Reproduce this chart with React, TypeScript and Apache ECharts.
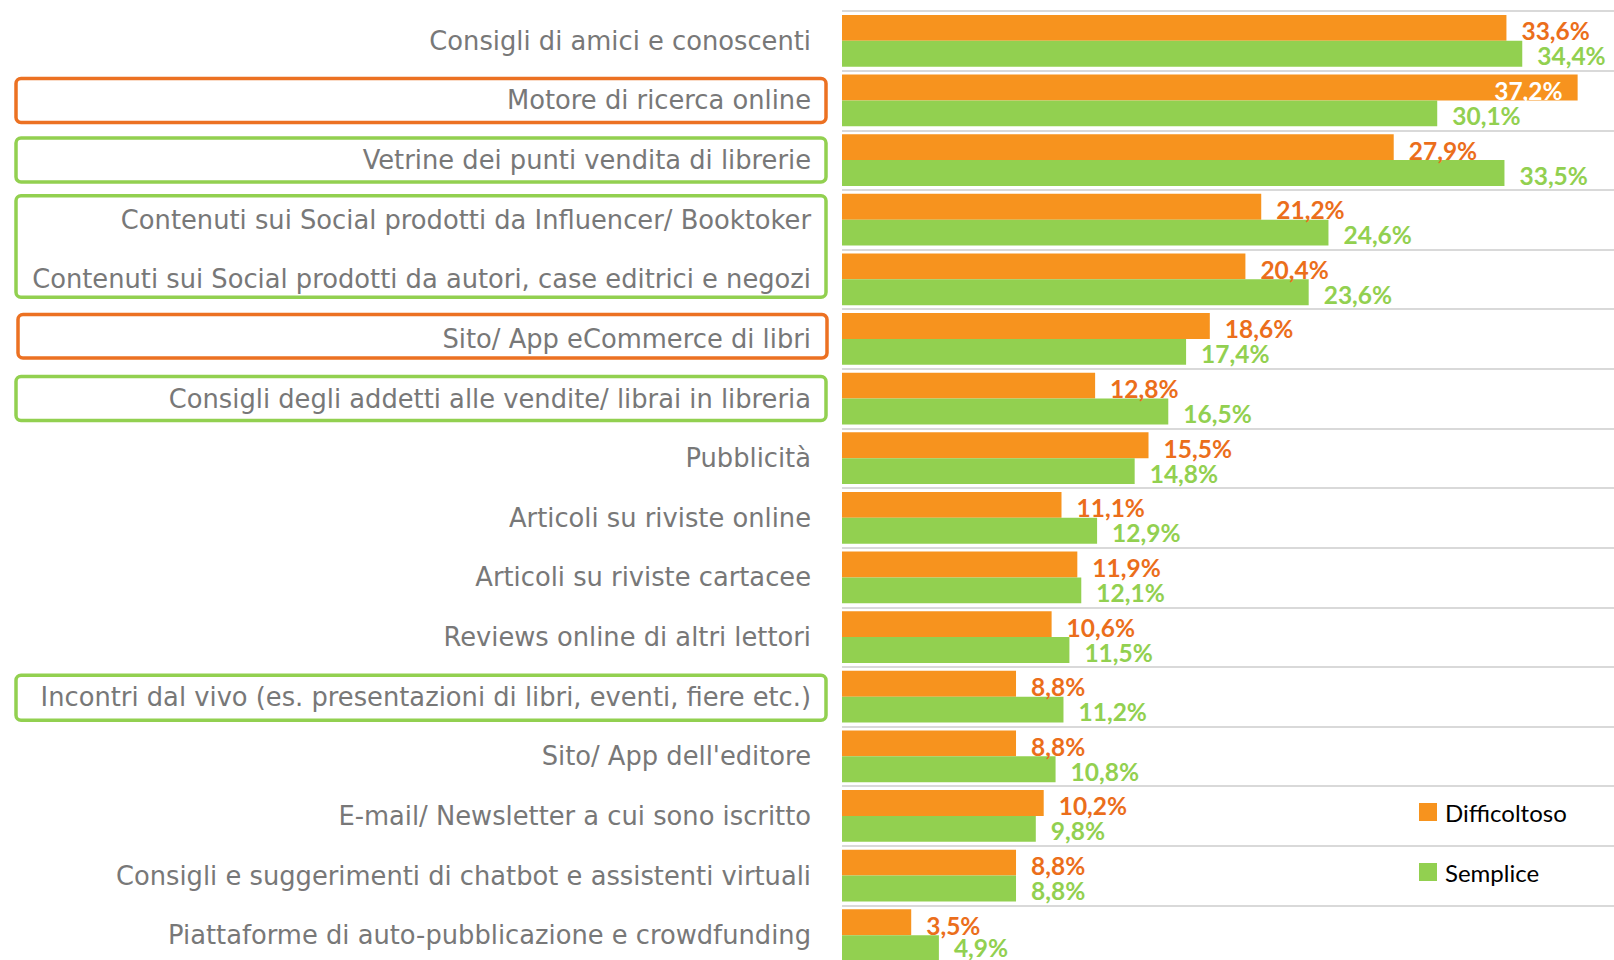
import React, { useEffect, useRef } from "react";
import * as echarts from "echarts";

const categories = [
  "Consigli di amici e conoscenti",
  "Motore di ricerca online",
  "Vetrine dei punti vendita di librerie",
  "Contenuti sui Social prodotti da Influencer/ Booktoker",
  "Contenuti sui Social prodotti da autori, case editrici e negozi",
  "Sito/ App eCommerce di libri",
  "Consigli degli addetti alle vendite/ librai in libreria",
  "Pubblicità",
  "Articoli su riviste online",
  "Articoli su riviste cartacee",
  "Reviews online di altri lettori",
  "Incontri dal vivo (es. presentazioni di libri, eventi, fiere etc.)",
  "Sito/ App dell'editore",
  "E-mail/ Newsletter a cui sono iscritto",
  "Consigli e suggerimenti di chatbot e assistenti virtuali",
  "Piattaforme di auto-pubblicazione e crowdfunding",
];

const difficoltoso = [33.6, 37.2, 27.9, 21.2, 20.4, 18.6, 12.8, 15.5, 11.1, 11.9, 10.6, 8.8, 8.8, 10.2, 8.8, 3.5];
const semplice = [34.4, 30.1, 33.5, 24.6, 23.6, 17.4, 16.5, 14.8, 12.9, 12.1, 11.5, 11.2, 10.8, 9.8, 8.8, 4.9];

const seriesNames = ["Difficoltoso", "Semplice"];

// highlighted label groups (category index ranges) with their frame insets
const highlightBoxes = [
  { from: 1, to: 1, kind: "orange", up: 22, down: 22, x0: 16 },
  { from: 2, to: 2, kind: "green", up: 22, down: 22, x0: 16 },
  { from: 3, to: 4, kind: "green", up: 24, down: 18, x0: 16 },
  { from: 5, to: 5, kind: "orange", up: 24.5, down: 19, x0: 18 },
  { from: 6, to: 6, kind: "green", up: 22, down: 22, x0: 16 },
  { from: 11, to: 11, kind: "green", up: 21.5, down: 23.5, x0: 16 },
];

const ORANGE = "#F7931E";
const ORANGE_TEXT = "#EB6E1B";
const ORANGE_BOX = "#EC7122";
const GREEN = "#92D050";
const FONT = "Lato";

const fmt = (v: number) => v.toFixed(1).replace(".", ",") + "%";

export default function App() {
  const ref = useRef<HTMLDivElement>(null);
  useEffect(() => {
    document.body.style.margin = "0";
    const chart = echarts.init(ref.current!, null, { renderer: "svg" });
    const labelBase = {
      show: true,
      position: "right",
      distance: 15,
      fontWeight: "bold",
      fontSize: 24.5,
      lineHeight: 22,
      fontFamily: FONT,
      formatter: (p: any) => fmt(p.value),
    };
    const mkData = (arr: number[], lastOffset: number[] | null) =>
      arr.map((v, i) => {
        if (v >= 36) {
          return { value: v, label: { position: "insideRight", color: "#ffffff", distance: 15 } };
        }
        if (lastOffset && i === arr.length - 1) {
          return { value: v, label: { offset: lastOffset } };
        }
        return v;
      });
    chart.setOption({
      animation: false,
      grid: {
        left: 842,
        top: 11,
        width: 791,
        height: 954,
        containLabel: false,
        outerBoundsMode: "none",
      },
      xAxis: {
        type: "value",
        min: 0,
        max: 40,
        show: false,
        splitLine: { show: false },
      },
      yAxis: {
        type: "category",
        data: categories,
        inverse: true,
        axisLine: { show: false },
        axisTick: { show: false },
        splitLine: { show: true, interval: 0, lineStyle: { color: "#D9D9D9", width: 2 } },
        axisLabel: {
          interval: 0,
          margin: 31,
          color: "#787878",
          fontSize: 25.75,
          fontFamily: "DejaVu Sans",
          padding: [0, 0, 17, 0],
        },
      },
      legend: {
        orient: "vertical",
        left: 1414,
        top: 792,
        itemWidth: 18,
        itemHeight: 18,
        itemGap: 30,
        icon: "rect",
        data: seriesNames,
        textStyle: { color: "#000000", fontSize: 24, fontFamily: FONT, lineHeight: 30, padding: [0, 0, 0, 3] },
      },
      series: [
        {
          name: seriesNames[0],
          type: "bar",
          data: mkData(difficoltoso, null),
          itemStyle: { color: ORANGE },
          barGap: "0%",
          barCategoryGap: "13%",
          label: { ...labelBase, color: ORANGE_TEXT, offset: [0, 3] },
        },
        {
          name: seriesNames[1],
          type: "bar",
          data: mkData(semplice, [0, -1]),
          itemStyle: { color: GREEN },
          barGap: "0%",
          barCategoryGap: "13%",
          label: { ...labelBase, color: GREEN, offset: [0, 2] },
        },
      ],
    });

    const yc = (i: number) => chart.convertToPixel({ yAxisIndex: 0 }, i) as number;
    const graphic = highlightBoxes.map((b) => {
      const top = yc(b.from) - b.up;
      const bottom = yc(b.to) + b.down;
      return {
        type: "rect",
        shape: { x: b.x0, y: top, width: 826 - b.x0 + (b.x0 > 16 ? 1 : 0), height: bottom - top, r: 5 },
        style: { fill: "none", stroke: b.kind === "orange" ? ORANGE_BOX : GREEN, lineWidth: 3.5 },
        z: 10,
      };
    });
    chart.setOption({ graphic });

    return () => chart.dispose();
  }, []);
  return <div ref={ref} style={{ width: 1614, height: 960 }} />;
}
